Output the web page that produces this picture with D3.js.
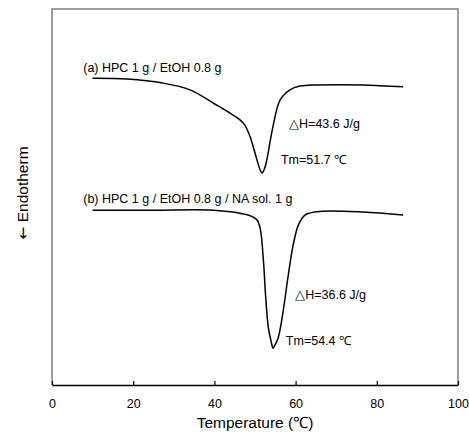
<!DOCTYPE html>
<html>
<head>
<meta charset="utf-8">
<script src="https://cdn.jsdelivr.net/npm/d3@7"></script>
<style>
  body { margin: 0; background: #fff; }
  text { font-family: "Liberation Sans", Arial, sans-serif; fill: #000; }
</style>
</head>
<body>
<div id="chart"></div>
<script>
// DSC traces, heat flow in arbitrary units
const tempA = [10, 18.5, 27.3, 34, 39.7, 46.3, 47.5, 48.8, 50, 51.2, 51.7, 52.3, 52.9, 54.4, 56.2, 58.6, 61.1, 65.3, 76.6, 86.5];
const flowA = [81.6, 81.4, 80.3, 78.5, 75.0, 70.5, 69.1, 66.0, 61.7, 57.4, 56.4, 57.4, 59.8, 68.6, 75.8, 78.5, 79.5, 79.8, 79.8, 79.3];

const tempB = [10, 25, 39.7, 48.3, 50.5, 51.3, 52.1, 52.6, 53.3, 54.1, 54.4, 54.8, 55.7, 56.9, 58.1, 59.4, 60.7, 62.3, 65.3, 76.6, 86.5];
const flowB = [46.5, 46.5, 46.5, 45.2, 43.9, 41.5, 32.7, 23.9, 15.2, 11.0, 9.8, 10.4, 12.5, 19.4, 28.5, 37.2, 42.6, 45.2, 46.1, 46.0, 45.2];

const xTicks = [0, 20, 40, 60, 80, 100];

// annotations: [text, temperature, flow]
const notes = [
    ["(a) HPC 1 g / EtOH 0.8 g", 7.7, 83.2],
    ["\u25B3H=43.6 J/g", 58.4, 68.4],
    ["Tm=51.7 \u2103", 56.4, 58.8],
    ["(b) HPC 1 g / EtOH 0.8 g / NA sol. 1 g", 7.7, 48.4],
    ["\u25B3H=36.6 J/g", 59.9, 22.9],
    ["Tm=54.4 \u2103", 57.6, 10.6]
];

let margin = {top: 9, right: 11, bottom: 48, left: 52};
let W = 469, H = 433;
let width = W - margin.left - margin.right;
let height = H - margin.top - margin.bottom;

let svg = d3.select("#chart").append("svg")
    .attr("width", W)
    .attr("height", H)
    .append("g")
    .attr("transform", "translate(" + margin.left + "," + margin.top + ")");

let x = d3.scaleLinear().domain([0, 100]).range([0, width]);
let y = d3.scaleLinear().domain([0, 100]).range([height, 0]);

// frame: grey on three sides, black baseline
svg.append("path")
    .attr("d", "M0," + height + "V0H" + width + "V" + height)
    .attr("fill", "none")
    .attr("stroke", "#808080")
    .attr("stroke-width", 1.5);

let xAxis = d3.axisBottom(x)
    .tickValues(xTicks)
    .tickSizeInner(-4)
    .tickSizeOuter(0)
    .tickPadding(14);

let gx = svg.append("g")
    .attr("transform", "translate(0," + height + ")")
    .call(xAxis);
gx.select(".domain").attr("stroke", "#000").attr("stroke-width", 1.6);
gx.selectAll(".tick line").attr("stroke", "#000").attr("stroke-width", 1.2);
gx.selectAll(".tick text")
    .attr("font-size", 12.5)
    .attr("font-family", "Liberation Sans, Arial, sans-serif");

let line = d3.line()
    .x(d => x(d[0]))
    .y(d => y(d[1]))
    .curve(d3.curveCatmullRom.alpha(0.5));

[[tempA, flowA], [tempB, flowB]].forEach(function(s) {
    svg.append("path")
        .datum(d3.zip(s[0], s[1]))
        .attr("fill", "none")
        .attr("stroke", "#000")
        .attr("stroke-width", 1.5)
        .attr("d", line);
});

svg.selectAll(".note")
    .data(notes)
    .enter().append("text")
    .attr("class", "note")
    .attr("x", d => x(d[1]))
    .attr("y", d => y(d[2]))
    .attr("font-size", 12.5)
    .text(d => d[0]);

svg.append("text")
    .attr("x", x(50))
    .attr("y", height + 43)
    .attr("text-anchor", "middle")
    .attr("font-size", 15.5)
    .text("Temperature (\u2103)");

let yl = svg.append("text")
    .attr("transform", "translate(" + (-24) + "," + (height / 2 - 4) + ") rotate(-90)")
    .attr("text-anchor", "middle")
    .attr("font-size", 15.5);
yl.append("tspan").attr("font-family", "DejaVu Sans").text("\u2190");
yl.append("tspan").text(" Endotherm");
</script>
</body>
</html>
